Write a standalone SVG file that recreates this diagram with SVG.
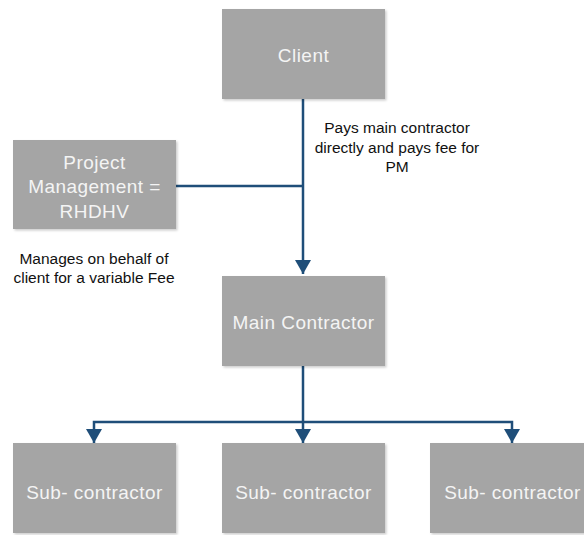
<svg xmlns="http://www.w3.org/2000/svg" width="584" height="535" viewBox="0 0 584 535">
<style>
.box{fill:#A5A5A5;filter:url(#sh)}
.bt{font-family:"Liberation Sans",Arial,sans-serif;font-size:19px;letter-spacing:0.45px;fill:#F4F4F4;text-anchor:middle;dominant-baseline:central}
.lt{font-family:"Liberation Sans",Arial,sans-serif;font-size:15.5px;fill:#111;text-anchor:middle;dominant-baseline:central}
.c{fill:none;stroke:#1F4E79;stroke-width:2.5}
</style>
<defs>
<filter id="sh" x="-10%" y="-10%" width="125%" height="125%">
<feDropShadow dx="1.5" dy="1.5" stdDeviation="1.2" flood-color="#000" flood-opacity="0.2"/>
</filter>
<marker id="ah" markerUnits="userSpaceOnUse" viewBox="0 0 14 16" refX="14" refY="8" markerWidth="14" markerHeight="16" orient="auto">
<path d="M0,0 L14,8 L0,16 z" fill="#1F4E79"/>
</marker>
</defs>
<g id="connectors">
<path class="c" d="M303,99 V274" marker-end="url(#ah)"/>
<path class="c" d="M176,186 H303"/>
<path class="c" d="M303,366 V443" marker-end="url(#ah)"/>
<path class="c" d="M303,422 H94 V443" marker-end="url(#ah)"/>
<path class="c" d="M303,422 H512 V443" marker-end="url(#ah)"/>
</g>
<g id="client">
<rect class="box" x="222" y="9" width="163" height="90"/>
<text class="bt" x="303.5" y="55">Client</text>
</g>
<g id="pm">
<rect class="box" x="13" y="140" width="163" height="89"/>
<text class="bt" x="94.5" y="162">Project</text>
<text class="bt" x="94.5" y="186">Management =</text>
<text class="bt" x="94.5" y="211">RHDHV</text>
</g>
<g id="pm-label">
<text class="lt" x="94" y="258">Manages on behalf of</text>
<text class="lt" x="94" y="277">client for a variable Fee</text>
</g>
<g id="pay-label">
<text class="lt" x="397" y="127">Pays main contractor</text>
<text class="lt" x="397" y="147">directly and pays fee for</text>
<text class="lt" x="397" y="166">PM</text>
</g>
<g id="main">
<rect class="box" x="222" y="276" width="163" height="90"/>
<text class="bt" x="303.5" y="322">Main Contractor</text>
</g>
<g id="sub1">
<rect class="box" x="13" y="443" width="163" height="90"/>
<text class="bt" x="94.5" y="492">Sub- contractor</text>
</g>
<g id="sub2">
<rect class="box" x="222" y="443" width="163" height="90"/>
<text class="bt" x="303.5" y="492">Sub- contractor</text>
</g>
<g id="sub3">
<rect class="box" x="430" y="443" width="163" height="90"/>
<text class="bt" x="512.5" y="492">Sub- contractor</text>
</g>
</svg>
